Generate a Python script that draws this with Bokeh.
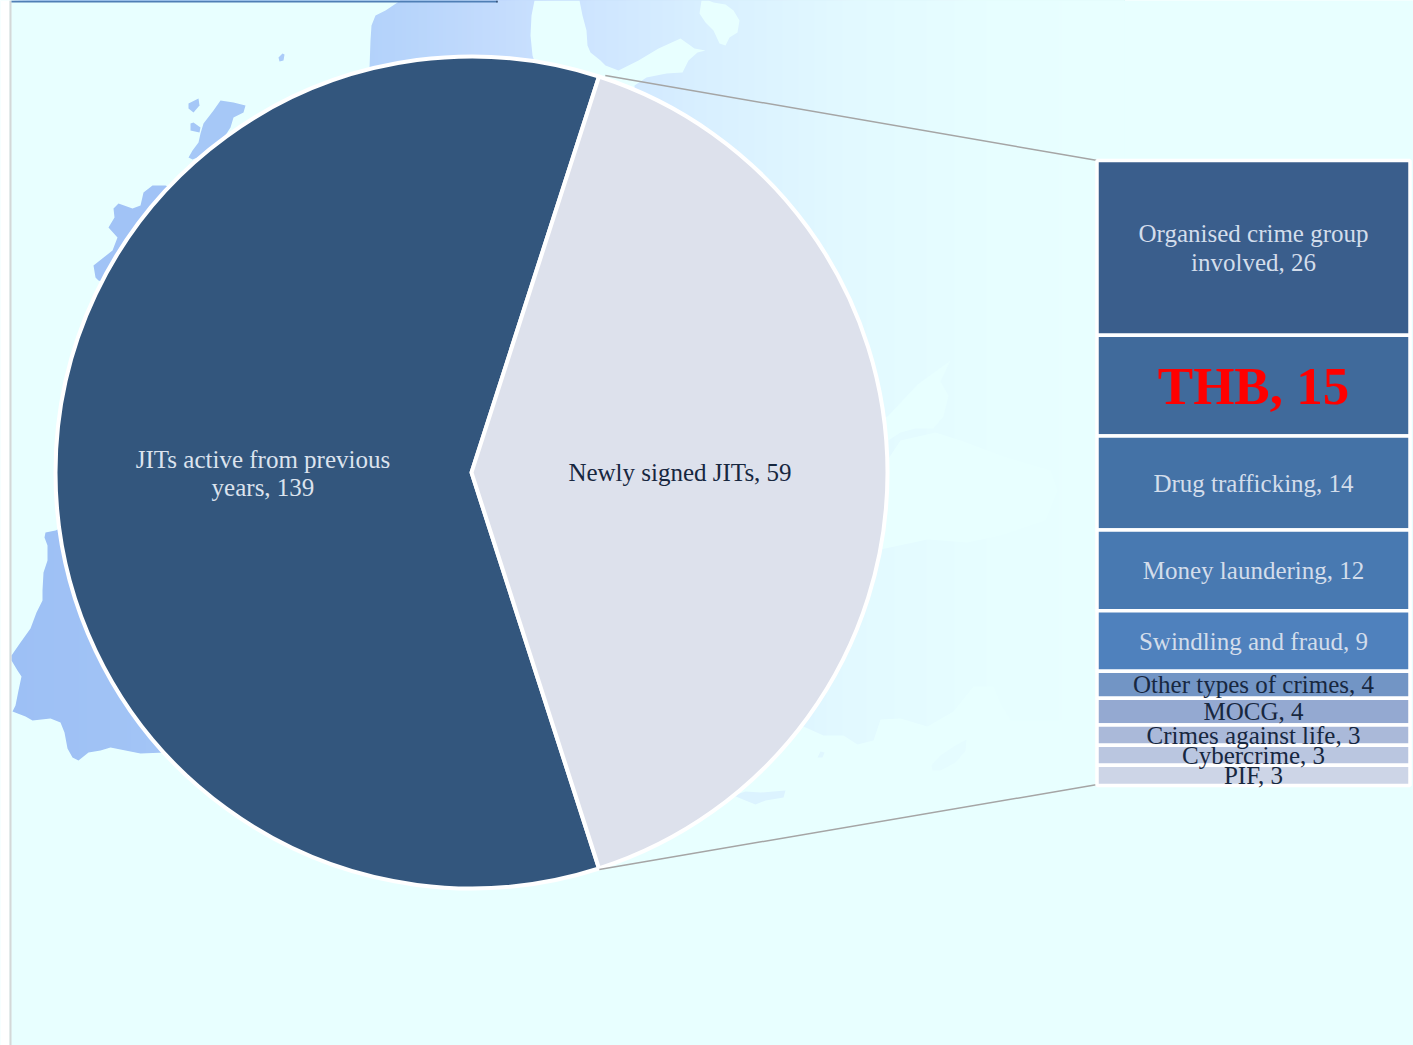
from bokeh.plotting import figure
from bokeh.models import Range1d
from bokeh.embed import file_html
from bokeh.resources import INLINE
from bokeh.core.properties import value
import numpy as np
import math

# ---- chart data ----
pie_labels = ["JITs active from previous\nyears, 139", "Newly signed JITs, 59"]
pie_active = 139
detail_labels = ["Organised crime group\ninvolved, 26", "THB, 15", "Drug trafficking, 14",
                 "Money laundering, 12", "Swindling and fraud, 9", "Other types of crimes, 4",
                 "MOCG, 4", "Crimes against life, 3", "Cybercrime, 3", "PIF, 3"]
detail_values = [26, 15, 14, 12, 9, 4, 4, 3, 3, 3]
detail_colors = ["#3A5E8C", "#406A9B", "#4472A6", "#4879B1", "#4F81BD",
                 "#7295C5", "#94A9D1", "#AAB9D9", "#BAC6E0", "#CDD5E7"]
detail_text = ["#D3DDEB", "#FF0000", "#D3DDEB", "#D3DDEB", "#D3DDEB",
               "#17273F", "#17273F", "#17273F", "#17273F", "#17273F"]
pie_colors = ["#33567D", "#DDE1EC"]
pie_text = ["#DCE3EE", "#17273F"]

# ---- background map (screen pixels, y downwards) ----
SEA = "#E8FFFF"
grad_x = [10, 100, 250, 400, 500, 600, 700, 850, 1000, 1120]
grad_c = [(157,192,245), (160,194,245), (168,202,248), (182,212,251), (196,220,253),
          (207,230,255), (216,239,255), (226,249,255), (231,254,255), (232,255,255)]

west_sea = [(10,0),(400,0),(385,10),(375,15),(371,25),(370,40),(369,68),(370,120),(300,300),
            (120,500),(55,530),(45,532),(44,537),(47,545),(47,560),(43,572),(42,590),(42,600),
            (36,612),(30,628),(20,642),(11,655),(11,660),(17,670),(21,676),(18,690),(15,705),
            (12,711),(25,716),(32,720),(50,718),(60,722),(64,732),(67,748),(72,757),(78,760),
            (88,752),(100,750),(110,747),(125,750),(140,753),(165,752),(300,700),(700,700),
            (803,726),(823,735),(843,735),(857,744),(873,740),(880,719),(900,718),(927,726),
            (953,711),(973,686),(993,686),(1000,703),(1010,720),(1413,720),(1413,1045),(10,1045)]
baltic = [(534,0),(531,15),(530,35),(532,55),(535,64),(540,120),(634,120),(634,85),(646,77),
          (666,73),(682,72),(688,60),(697,52),(705,50),(694,48),(680,38),(658,48),(638,60),
          (618,70),(605,65),(600,60),(590,52),(587,45),(586,30),(582,15),(579,0)]
lake = [(701,0),(699,13),(705,22),(713,30),(719,43),(725,45),(729,37),(737,32),(739,20),
        (733,10),(725,4),(713,2),(708,0)]
gulf = [(880,418),(887,416),(917,384),(950,360),(940,381),(948,395),(943,416),(933,428),
        (915,428),(900,432),(880,445)]
black_sea = [(880,470),(900,440),(935,432),(960,440),(1000,455),(1050,470),(1057,490),
             (1045,520),(1000,535),(967,542),(927,539),(880,549)]
islands = [[(220,100),(233,102),(245,105),(243,112),(233,117),(230,127),(215,150),(192,159),
            (188,157),(192,150),(198,142),(200,133),(203,123),(213,110)],
           [(188,103),(198,98),(199,105),(193,112),(188,108)],
           [(190,123),(193,122),(200,127),(199,132),(190,130)],
           [(278,57),(282,53),(284,54),(283,60),(279,61)],
           [(165,185),(152,185),(143,192),(140,205),(132,208),(118,203),(113,208),(114,217),
            (108,227),(117,237),(112,250),(93,265),(95,277),(98,280),(130,290),(200,200)],
           [(733,795),(745,791),(760,792),(785,790),(783,797),(765,800),(755,804),(745,800)],
           [(817,757),(820,751),(824,752),(822,757)],
           [(931,765),(940,755),(955,745),(966,739),(965,750),(955,762),(940,770),(932,770)]]

H = 1045
R = 417
CX, CY = 471, 472
k = 625 / sum(detail_values)      # pixels per unit in the stacked bar
STACK_TOP = 160
LABEL_FONT = value("Liberation Serif")


def col(x):
    r = [np.interp(x, grad_x, [c[i] for c in grad_c]) for i in range(3)]
    return "#%02X%02X%02X" % tuple(int(round(v)) for v in r)


def poly(p, pts, color):
    p.patch([a for a, _ in pts], [H - b for _, b in pts], fill_color=color, line_color=None)


p = figure(width=1413, height=1045, x_range=Range1d(0, 1413), y_range=Range1d(0, H),
           output_backend="svg", toolbar_location=None, min_border=0,
           background_fill_color=SEA, border_fill_color="white",
           styles={"position": "absolute", "left": "0px", "top": "0px"})
p.axis.visible = False
p.grid.visible = False
p.outline_line_color = None
p.extra_y_ranges = {"stack": Range1d((H - STACK_TOP) / k, -STACK_TOP / k)}

# gradient land: each strip runs on under the next, so no seams show
edges = list(range(10, 1124, 4))
p.quad(left=edges[:-1], right=1124, bottom=0, top=H,
       fill_color=[col(x + 2) for x in edges[:-1]], line_color=None)
# seas over it, islands back on top
for s in (west_sea, baltic, lake, gulf, black_sea):
    poly(p, s, SEA)
for isl in islands:
    poly(p, isl, col(sum(a for a, _ in isl) / len(isl)))

# page rule and top bar
p.quad(left=0, right=9, bottom=0, top=H, fill_color="white", line_color=None)
p.quad(left=9, right=11, bottom=0, top=H, fill_color="#D4D8D8", line_color=None)
p.quad(left=11, right=497, bottom=H - 2, top=H, fill_color="#4F7FB5", line_color=None)
p.quad(left=496, right=497, bottom=H - 2, top=H, fill_color="#1B2A44", line_color=None)

# pie: the second slice is the sum of the breakdown
other = sum(detail_values)
half = math.pi * other / (pie_active + other)
starts = [half, -half]
ends = [2 * math.pi - half, half]
p.wedge(x=CX, y=H - CY, radius=R - 1, start_angle=starts, end_angle=ends,
        fill_color=pie_colors, line_color="white", line_width=4)

# leader lines
ex, ey = CX + R * math.cos(half), R * math.sin(half)
p.line([ex + 6, 1097], [H - CY + ey, H - STACK_TOP], line_color="#A5A5A5", line_width=1.5)
p.line([ex, 1097], [H - CY - ey, H - STACK_TOP - other * k + 1], line_color="#A5A5A5", line_width=1.5)

# pie labels at half radius of each slice
p.text(x=[CX - R / 2, CX + R / 2], y=[H - CY - 1, H - CY], text=pie_labels,
       text_color=pie_text, text_font=LABEL_FONT, text_font_size="25px",
       text_align="center", text_baseline="middle", text_line_height=1.05)

# stacked breakdown
cum = np.cumsum([0] + detail_values)
p.quad(left=1096.5, right=1409.5, top=cum[:-1], bottom=cum[1:], y_range_name="stack",
       fill_color=detail_colors, line_color="white", line_width=3.5)
mids = (cum[:-1] + cum[1:]) / 2
for i, lab in enumerate(detail_labels):
    big = lab.startswith("THB")
    p.text(x=[1253], y=[mids[i]], text=[lab], y_range_name="stack",
           text_color=detail_text[i], text_font=LABEL_FONT,
           text_font_size="53px" if big else "25px",
           text_font_style="bold" if big else "normal",
           text_align="center", text_baseline="middle", text_line_height=1.05)

open("out.html", "w").write(file_html(p, INLINE))
